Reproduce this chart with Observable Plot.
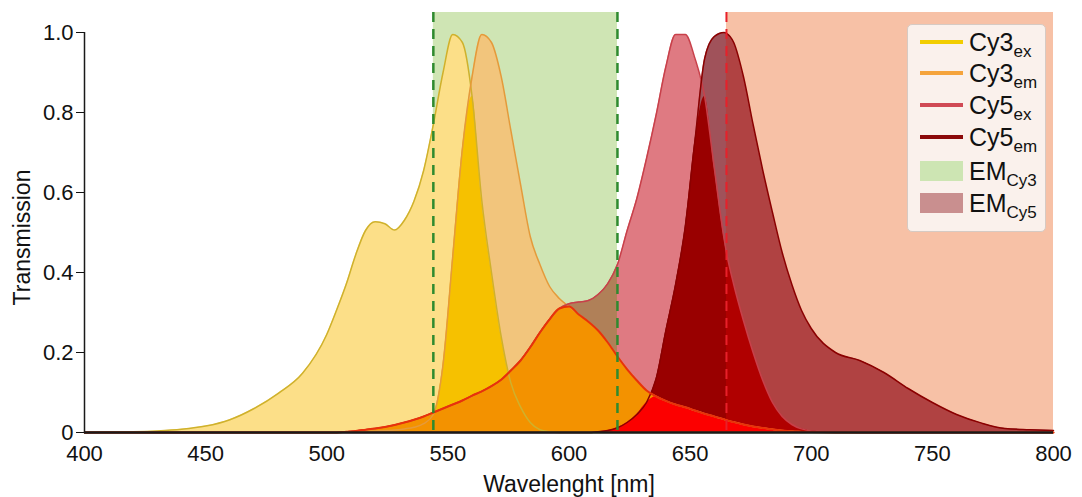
<!DOCTYPE html>
<html>
<head>
<meta charset="utf-8">
<script src="https://cdn.jsdelivr.net/npm/d3@7"></script>
<script src="https://cdn.jsdelivr.net/npm/@observablehq/plot@0.6"></script>
<style>
  body { margin: 0; background: #fff; font-family: "Liberation Sans", Arial, sans-serif; }
  #chart { position: relative; width: 1082px; height: 497px; }
  .legend { position: absolute; left: 907px; top: 24px; width: 139px; height: 208px;
            background: #faf1ec; border: 1px solid #d6cac3; border-radius: 5px; box-sizing: border-box; }
  .row { position: absolute; left: 12px; height: 24px; display: flex; align-items: center; }
  .key { width: 43px; height: 3.5px; margin-right: 6px; flex: none; }
  .key.box { height: 20px; }
  .lab { font-size: 25px; color: #111; line-height: 1; white-space: nowrap; }
  .lab sub { font-size: 17px; vertical-align: -6px; line-height: 0; }
</style>
</head>
<body>
<div id="chart"></div>
<script>
// Wavelength grid (nm) shared by all spectra
const wavelength = [
  400, 410, 420, 430, 440, 450, 460, 470, 480, 490,
  500, 504, 508, 512, 516, 520, 524, 528, 532, 536,
  540, 544, 548, 552, 556, 560, 564, 568, 572, 576,
  580, 584, 588, 592, 596, 600, 604, 608, 612, 616,
  620, 624, 628, 632, 636, 640, 644, 648, 652, 656,
  660, 664, 665, 668, 672, 676, 680, 684, 688, 692, 696,
  700, 710, 720, 730, 740, 750, 760, 770, 780, 790, 800
];

// Cy3 excitation
const cy3ex = [
  0.000, 0.001, 0.002, 0.004, 0.008, 0.016, 0.032, 0.060, 0.098, 0.148,
  0.245, 0.305, 0.370, 0.445, 0.505, 0.527, 0.522, 0.506, 0.530, 0.578,
  0.655, 0.770, 0.900, 0.995, 0.975, 0.840, 0.580, 0.400, 0.240, 0.124,
  0.064, 0.025, 0.007, 0.002, 0, 0, 0, 0, 0, 0,
  0, 0, 0, 0, 0, 0, 0, 0, 0, 0,
  0, 0, 0, 0, 0, 0, 0, 0, 0, 0, 0,
  0, 0, 0, 0, 0, 0, 0, 0, 0, 0, 0
];

// Cy3 emission
const cy3em = [
  0, 0, 0, 0, 0, 0, 0, 0, 0, 0,
  0, 0, 0.001, 0.002, 0.003, 0.004, 0.005, 0.006, 0.009, 0.013,
  0.022, 0.045, 0.170, 0.440, 0.710, 0.890, 0.995, 0.975, 0.890, 0.755,
  0.620, 0.490, 0.420, 0.365, 0.335, 0.315, 0.295, 0.277, 0.255, 0.225,
  0.190, 0.158, 0.130, 0.105, 0.090, 0.079, 0.070, 0.063, 0.055, 0.047,
  0.040, 0.033, 0.031, 0.026, 0.020, 0.015, 0.011, 0.008, 0.005, 0.003, 0.002,
  0.001, 0, 0, 0, 0, 0, 0, 0, 0, 0, 0
];

// Cy5 excitation
const cy5ex = [
  0, 0, 0, 0, 0, 0, 0, 0, 0, 0,
  0, 0, 0.002, 0.004, 0.007, 0.010, 0.014, 0.019, 0.025, 0.032,
  0.040, 0.050, 0.060, 0.070, 0.080, 0.092, 0.103, 0.116, 0.132, 0.155,
  0.180, 0.213, 0.250, 0.283, 0.310, 0.322, 0.326, 0.330, 0.345, 0.372,
  0.420, 0.505, 0.585, 0.685, 0.795, 0.915, 0.995, 0.995, 0.935, 0.840,
  0.660, 0.485, 0.450, 0.370, 0.280, 0.200, 0.130, 0.075, 0.040, 0.020, 0.009,
  0.004, 0.001, 0, 0, 0, 0, 0, 0, 0, 0, 0
];

// Cy5 emission
const cy5em = [
  0, 0, 0, 0, 0, 0, 0, 0, 0, 0,
  0, 0, 0, 0, 0, 0, 0, 0, 0, 0,
  0, 0, 0, 0, 0, 0, 0, 0, 0, 0,
  0, 0, 0, 0, 0, 0, 0, 0, 0.002, 0.005,
  0.012, 0.025, 0.045, 0.075, 0.135, 0.255, 0.370, 0.515, 0.730, 0.935,
  0.990, 1.000, 0.998, 0.975, 0.890, 0.770, 0.655, 0.550, 0.450, 0.370, 0.305,
  0.260, 0.200, 0.180, 0.150, 0.110, 0.075, 0.045, 0.024, 0.010, 0.007, 0.005
];

// Emission filter pass bands (nm)
const bandNames = ["EM_Cy3", "EM_Cy5"];
const bandStart = [544, 665];
const bandEnd = [620, 800];

// Axis ticks
const xTicks = [400, 450, 500, 550, 600, 650, 700, 750, 800];
const yTicks = [0, 0.2, 0.4, 0.6, 0.8, 1.0];

const rows = wavelength.map((w, i) => ({
  w, cy3ex: cy3ex[i], cy3em: cy3em[i], cy5ex: cy5ex[i], cy5em: cy5em[i]
}));
const bands = bandNames.map((name, i) => ({name, start: bandStart[i], end: bandEnd[i]}));
const emCy3 = bands[0];
const emCy5 = bands[1];
const inBand = band => rows.filter(d => d.w >= band.start && d.w <= band.end);

const curve = "monotone-x";
const area = (y, fill, data = rows) => Plot.areaY(data, {x: "w", y, fill, curve});
const line = (y, stroke, strokeWidth = 1.5) => Plot.lineY(rows, {x: "w", y, stroke, strokeWidth, curve});

// overlap regions between spectra
const overlapCy3 = d => Math.min(d.cy3ex, d.cy3em);
const overlapCy5 = d => Math.min(d.cy5ex, d.cy5em);
const overlapCy3Cy5ex = d => Math.min(d.cy5ex, Math.max(d.cy3ex, d.cy3em));
const overlapCy3emCy5em = d => Math.min(d.cy3em, d.cy5em);

const font = '"Liberation Sans", Arial, sans-serif';

const plot = Plot.plot({
  width: 1082,
  height: 497,
  marginLeft: 84,
  marginRight: 29,
  marginTop: 12,
  marginBottom: 65,
  style: {fontFamily: font, background: "transparent", color: "#111"},
  x: {domain: [400, 800]},
  y: {domain: [0, 1.05]},
  marks: [
    // filter pass bands
    Plot.rect([emCy3], {x1: "start", x2: "end", fill: "#cfe5b4"}),
    Plot.rect([emCy5], {x1: "start", x2: "end", fill: "#f7c1a6"}),

    // spectra and their overlaps
    area("cy3ex", "#fcdf88"),
    area("cy3em", "#f2c57c"),
    area(overlapCy3, "#f6c100"),
    area("cy5ex", "#df7a82"),
    area("cy5ex", "#b08058", inBand(emCy3)),
    area("cy5em", "#a0525a"),
    area("cy5em", "#b04242", inBand(emCy5)),
    area(overlapCy5, "#990000"),
    area(overlapCy5, "#b00000", inBand(emCy5)),
    area(overlapCy3Cy5ex, "#f39200"),
    area(overlapCy3emCy5em, "#fc0000"),

    // outlines
    line("cy3ex", "#cfb12c"),
    line("cy3em", "#e59a3a"),
    line("cy5ex", "#c8404a"),
    line("cy5em", "#8b0000"),
    line(overlapCy3Cy5ex, "#e8320a", 2),

    // band edges
    Plot.ruleX([emCy3.start, emCy3.end], {stroke: "#2f8a2f", strokeWidth: 2.5, strokeDasharray: "10,7"}),
    Plot.ruleX([emCy5.start], {stroke: "#e8202a", strokeWidth: 2, strokeDasharray: "10,7"}),

    // axis lines
    Plot.ruleY([0], {stroke: "#1a1a1a", strokeWidth: 2.5}),
    Plot.ruleX([xTicks[0]], {y1: yTicks[0], y2: yTicks[yTicks.length - 1], stroke: "#1a1a1a", strokeWidth: 1.5}),

    Plot.axisY({ticks: yTicks, tickFormat: d => d === 0 ? "0" : d.toFixed(1), tickSize: 8, tickPadding: 3,
                fontSize: 22, label: null}),
    Plot.axisX({ticks: xTicks, tickFormat: d => String(d), tickSize: 0, tickPadding: 13,
                fontSize: 22, label: null}),

    Plot.text(["Transmission"], {frameAnchor: "left", textAnchor: "middle", lineAnchor: "middle",
                                 dx: -62, dy: 15, rotate: -90, fontSize: 23, fill: "#111"}),
    Plot.text(["Wavelenght [nm]"], {frameAnchor: "bottom", textAnchor: "middle", lineAnchor: "middle",
                                    dy: 52, fontSize: 23, fill: "#111"})
  ]
});

const chart = document.getElementById("chart");
chart.appendChild(plot);

// Legend
const legendItems = [
  {name: "Cy3", sub: "ex", color: "#f2cd00", kind: "line"},
  {name: "Cy3", sub: "em", color: "#f5a43c", kind: "line"},
  {name: "Cy5", sub: "ex", color: "#d04a55", kind: "line"},
  {name: "Cy5", sub: "em", color: "#8b0a0a", kind: "line"},
  {name: "EM", sub: "Cy3", color: "#cde5b3", kind: "box"},
  {name: "EM", sub: "Cy5", color: "#c98f8f", kind: "box"}
];
const rowTops = [5, 36, 68, 100, 134, 166];
const legend = document.createElement("div");
legend.className = "legend";
legendItems.forEach((it, i) => {
  const row = document.createElement("div");
  row.className = "row";
  row.style.top = rowTops[i] + "px";
  const key = document.createElement("div");
  key.className = "key" + (it.kind === "box" ? " box" : "");
  key.style.background = it.color;
  const lab = document.createElement("span");
  lab.className = "lab";
  lab.append(it.name);
  const sub = document.createElement("sub");
  sub.textContent = it.sub;
  lab.appendChild(sub);
  row.append(key, lab);
  legend.appendChild(row);
});
chart.appendChild(legend);
</script>
</body>
</html>
